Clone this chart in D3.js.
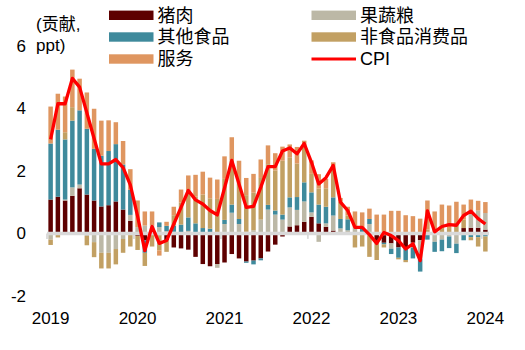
<!DOCTYPE html>
<html>
<head>
<meta charset="utf-8">
<script src="https://cdn.jsdelivr.net/npm/d3@7"></script>
<style>
  html, body { margin: 0; padding: 0; background: #fff; }
  svg { display: block; }
  text { font-family: "Liberation Sans", Arial, "Noto Sans CJK SC", sans-serif; fill: #000; }
</style>
</head>
<body>
<svg id="chart" width="525" height="350"></svg>
<script>
// ---------- DATA ----------
const months = [
  "2019-01","2019-02","2019-03","2019-04","2019-05","2019-06","2019-07","2019-08","2019-09","2019-10","2019-11","2019-12",
  "2020-01","2020-02","2020-03","2020-04","2020-05","2020-06","2020-07","2020-08","2020-09","2020-10","2020-11","2020-12",
  "2021-01","2021-02","2021-03","2021-04","2021-05","2021-06","2021-07","2021-08","2021-09","2021-10","2021-11","2021-12",
  "2022-01","2022-02","2022-03","2022-04","2022-05","2022-06","2022-07","2022-08","2022-09","2022-10","2022-11","2022-12",
  "2023-01","2023-02","2023-03","2023-04","2023-05","2023-06","2023-07","2023-08","2023-09","2023-10","2023-11","2023-12",
  "2024-01"
];
const yearLabels = ["2019","2020","2021","2022","2023","2024"];
const yearTickMonths = ["2019-01","2020-01","2021-01","2022-01","2023-01","2024-01"];
const yTicks = [-2, 0, 2, 4, 6];

const seriesNames = ["猪肉", "果蔬粮", "其他食品", "非食品消费品", "服务"];

const pork = [1.08,1.17,1.05,1.2,1.44,1.24,1.05,0.86,0.9,1.02,
  0.76,0.4,-0.08,-0.22,-0.05,-0.06,-0.22,-0.45,-0.48,-0.52,
  -0.75,-0.98,-1.05,-0.98,-0.93,-0.66,-0.8,-0.9,-0.87,-0.8,
  -0.58,-0.36,-0.1,0.22,0.26,0.37,0.53,0.32,0.21,0.09,
  0,-0.05,0,0,0,-0.3,-0.3,-0.32,-0.45,-0.45,
  -0.3,-0.22,0,0,0,0,0,0.17,0.18,0.18,0.12];
const fruitVeg = [-0.2,0,0.03,0.27,0.12,-0.08,-0.28,-0.62,-0.62,-0.5,
  -0.18,0.19,0.2,0.25,0.25,0.2,0.07,0.05,0,0.08,
  0,0,0,-0.12,0.3,0.66,0.3,0.05,0.1,0.44,
  0.76,0.6,0.44,0.61,0.49,0.65,0.14,-0.27,0.11,0.48,
  0.16,0.1,0.2,0.05,0.3,0,0,-0.17,0,0,
  -0.15,-0.6,0,-0.27,-0.2,-0.1,-0.33,0,0.53,0.55,0.53];
const otherFood = [1.79,2.14,1.92,2.13,2.37,2.1,1.65,1.62,1.73,1.83,
  1.44,0.8,0,-0.4,0,0.15,0.17,0.2,0.28,0.43,
  0.32,0.17,0.15,0,0.13,0.26,0.16,-0.04,-0.12,-0.06,
  0.15,0.13,0.16,0.32,0.41,0.61,0.64,0.6,0.53,0.58,
  0.3,0.35,0,0.12,0.16,0,-0.05,-0.17,-0.33,-0.4,
  -0.35,-0.4,-0.2,-0.32,-0.37,-0.37,-0.3,-0.22,-0.12,-0.12,-0.1];
const nonFood = [-0.17,-0.13,0.23,0.43,0,-0.3,-0.48,-0.5,-0.5,-0.49,
  -0.44,-0.42,-0.45,-0.42,-0.37,-0.48,-0.37,0.33,0.7,0.75,
  0.85,1.07,0.97,1.1,1.31,1.4,1.12,1.17,1.2,1.33,
  1.3,1.28,1.72,1.28,1.07,1.14,0.59,0.51,0.59,0.94,
  0.55,0.12,-0.45,-0.42,-0.75,-0.55,-0.1,0,-0.05,-0.07,
  0,0,0.12,0,0.25,0.17,0.28,0.27,-0.1,-0.3,-0.48];
const services = [1.18,1.15,1.14,1.2,1.01,1.16,1.28,1.12,0.98,0.7,
  0.75,0.66,0.85,0.45,0.45,-0.17,0.13,0.27,0.42,0.59,
  0.7,0.73,0.66,0.62,0.72,0.75,0.74,0.55,0.6,0.59,
  0.6,0.55,0.45,0.41,0.53,0.19,0.43,0.46,0.3,0.18,
  0.12,0.28,0.5,0.5,0.33,0.6,0.6,0.72,0.72,0.58,
  0.55,0.47,0.93,0.7,0.67,0.72,0.73,0.48,0.37,0.31,0.35];
const cpi = [3.0,4.14,4.14,4.95,4.67,3.85,3.03,2.22,2.22,2.36,
  2.1,1.55,0.55,-0.55,0.22,-0.32,-0.23,0.3,0.83,1.37,
  1.07,0.94,0.73,0.59,1.45,2.33,1.58,0.83,0.86,1.47,
  2.13,2.13,2.63,2.73,2.54,2.87,2.27,1.58,1.78,2.17,
  1.0,0.73,0.19,0.19,-0.04,-0.32,0.03,-0.07,-0.23,-0.5,
  -0.33,-0.87,0.72,0.05,0.22,0.28,0.26,0.57,0.71,0.47,0.3];

const colors = ["#5E0000", "#BCB8A6", "#3F8A9C", "#C2A063", "#DF9660"];
const cpiColor = "#FF0000";

// ---------- BUILD ----------
const svg = d3.select("#chart");
const seriesArrays = [pork, fruitVeg, otherFood, nonFood, services];
const keys = ["pork", "fruitVeg", "otherFood", "nonFood", "services"];
const table = months.map((m, i) => {
  const row = { month: m };
  keys.forEach((k, j) => row[k] = seriesArrays[j][i]);
  return row;
});

const x = d3.scaleBand().domain(months).range([47, 489]).paddingInner(0.38).paddingOuter(0.19);
const y = d3.scaleLinear().domain([-2, 6]).range([296, 45.5]);

const stacked = d3.stack().keys(keys).offset(d3.stackOffsetDiverging)(table);

// bars
svg.append("g").selectAll("g").data(stacked).join("g")
  .attr("fill", (d, i) => colors[i])
  .selectAll("rect").data(d => d).join("rect")
  .attr("x", d => x(d.data.month))
  .attr("width", x.bandwidth())
  .attr("y", d => y(Math.max(d[0], d[1])))
  .attr("height", d => Math.abs(y(d[0]) - y(d[1])));

// zero axis with ticks
const axisG = svg.append("g");
axisG.append("line")
  .attr("x1", x.range()[0]).attr("x2", x.range()[1])
  .attr("y1", y(0)).attr("y2", y(0))
  .attr("stroke", "#D9D9D9").attr("stroke-width", 3.5);
axisG.selectAll("line.tick").data(yearTickMonths).join("line")
  .attr("class", "tick")
  .attr("x1", d => x(d) - x.step() * x.paddingInner() / 2)
  .attr("x2", d => x(d) - x.step() * x.paddingInner() / 2)
  .attr("y1", y(0)).attr("y2", y(0) + 5.5)
  .attr("stroke", "#D9D9D9").attr("stroke-width", 1.8);

// x labels
svg.append("g").selectAll("text").data(yearLabels).join("text")
  .attr("x", (d, i) => x(yearTickMonths[i]) + x.bandwidth() / 2)
  .attr("y", 324)
  .attr("text-anchor", "middle")
  .attr("font-size", 17)
  .text(d => d);

// y labels
svg.append("g").selectAll("text").data(yTicks).join("text")
  .attr("x", 26)
  .attr("y", d => y(d))
  .attr("dy", "0.36em")
  .attr("text-anchor", "end")
  .attr("font-size", 17)
  .text(d => d);

// unit annotation
svg.append("text").attr("x", 36).attr("y", 30).attr("font-size", 17).text("(贡献,");
svg.append("text").attr("x", 36).attr("y", 51).attr("font-size", 17).text("ppt)");

// CPI line
const line = d3.line()
  .x((d, i) => x(months[i]) + x.bandwidth() / 2)
  .y(d => y(d));
svg.append("path").datum(cpi)
  .attr("d", line)
  .attr("fill", "none")
  .attr("stroke", cpiColor)
  .attr("stroke-width", 3.3)
  .attr("stroke-linejoin", "round");

// legend
const legendItems = [
  { name: seriesNames[0], color: colors[0], type: "rect", col: 0, row: 0 },
  { name: seriesNames[2], color: colors[2], type: "rect", col: 0, row: 1 },
  { name: seriesNames[4], color: colors[4], type: "rect", col: 0, row: 2 },
  { name: seriesNames[1], color: colors[1], type: "rect", col: 1, row: 0 },
  { name: seriesNames[3], color: colors[3], type: "rect", col: 1, row: 1 },
  { name: "CPI", color: cpiColor, type: "line", col: 1, row: 2 }
];
const colX = [109, 311.5];
const rowY = [15.3, 37, 59];
const lg = svg.append("g");
legendItems.forEach(it => {
  const lx = colX[it.col], ly = rowY[it.row];
  if (it.type === "rect") {
    lg.append("rect").attr("x", lx).attr("y", ly - 4.7).attr("width", 44.5).attr("height", 9.4).attr("fill", it.color);
  } else {
    lg.append("line").attr("x1", lx).attr("x2", lx + 44.5).attr("y1", ly).attr("y2", ly)
      .attr("stroke", it.color).attr("stroke-width", 3);
  }
  lg.append("text").attr("x", lx + 48.5).attr("y", ly).attr("dy", "0.36em")
    .attr("font-size", 18).text(it.name);
});
</script>
</body>
</html>
